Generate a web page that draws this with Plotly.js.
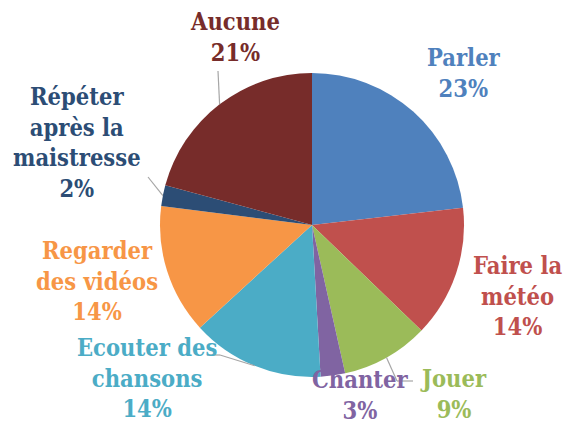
<!DOCTYPE html>
<html><head><meta charset="utf-8">
<script src="https://cdn.plot.ly/plotly-3.0.1.min.js"></script>
<style>html,body{margin:0;padding:0;background:#fff;}#chart{width:565px;height:425px;}</style>
</head><body><div id="chart"></div>
<script>
// Data
const categories = ["Parler", "Faire la météo", "Jouer", "Chanter", "Ecouter des chansons", "Regarder des vidéos", "Répéter après la maistresse", "Aucune"];
const labelLines = ["Parler", "Faire la<br>météo", "Jouer", "Chanter", "Ecouter des<br>chansons", "Regarder<br>des vidéos", "Répéter<br>après la<br>maistresse", "Aucune"];
const values = [23.2, 14.0, 9.3, 2.6, 14.1, 13.8, 2.2, 20.8];
const colors = ["#4F81BD", "#C0504D", "#9BBB59", "#8064A2", "#4BACC6", "#F79646", "#2C4D75", "#772C2A"];

// Layout (pixels)
const W = 565, H = 425;
const cx = 312, cy = 225, R = 152;
const labelPos = [[464, 73], [517, 296], [453, 394], [360, 395], [147, 378], [97, 281], [77, 143], [235, 38]];
// leader lines: [elbow, end] in pixels, null for none
const leaders = [null, null, [[397, 381], [413, 381]], null, [[220, 355], [207, 355]], null, [[148, 177], null], [[218, 71], null]];

const total = values.reduce((a, b) => a + b, 0);
const px = x => x / W, py = y => 1 - y / H;

const annotations = categories.map((c, i) => ({
  x: px(labelPos[i][0]), y: py(labelPos[i][1]), xref: 'paper', yref: 'paper',
  xanchor: 'center', yanchor: 'middle', showarrow: false, align: 'center',
  text: '<b>' + labelLines[i] + '<br>' + Math.round(values[i] / total * 100) + '%</b>',
  font: {family: '"DejaVu Serif Condensed", "DejaVu Serif", serif', size: 23.5, color: colors[i]}
}));

const shapes = [];
let cum = 0;
values.forEach((v, i) => {
  const mid = (cum + v / 2) / total * 2 * Math.PI;
  cum += v;
  if (!leaders[i]) return;
  const p0 = [cx + R * Math.sin(mid), cy - R * Math.cos(mid)];
  const pts = [p0, leaders[i][0]];
  if (leaders[i][1]) pts.push(leaders[i][1]);
  for (let k = 0; k < pts.length - 1; k++) {
    shapes.push({type: 'line', xref: 'paper', yref: 'paper',
      x0: px(pts[k][0]), y0: py(pts[k][1]), x1: px(pts[k + 1][0]), y1: py(pts[k + 1][1]),
      line: {color: '#A6A6A6', width: 1.2}});
  }
});

const trace = {
  type: 'pie', labels: categories, values: values, sort: false, direction: 'clockwise', rotation: 0,
  marker: {colors: colors, line: {width: 0}}, textinfo: 'none', hoverinfo: 'skip',
  domain: {x: [px(cx - R), px(cx + R)], y: [py(cy + R), py(cy - R)]}
};

Plotly.newPlot('chart', [trace], {
  width: W, height: H, margin: {l: 0, r: 0, t: 0, b: 0},
  paper_bgcolor: '#fff', showlegend: false, annotations: annotations, shapes: shapes
}, {staticPlot: true});
</script></body></html>
